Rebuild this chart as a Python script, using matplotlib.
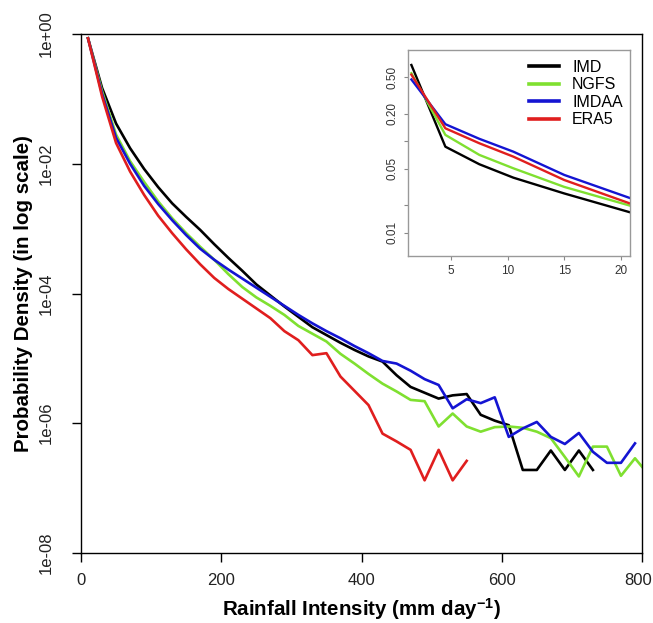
import numpy as np
import matplotlib
matplotlib.use("Agg")
import matplotlib.pyplot as plt
from matplotlib.ticker import NullLocator
from matplotlib.transforms import ScaledTranslation

plt.rcParams['font.family'] = ['Liberation Sans', 'DejaVu Sans']
plt.rcParams['mathtext.fontset'] = 'custom'
plt.rcParams['mathtext.rm'] = 'Liberation Sans'
plt.rcParams['mathtext.bf'] = 'Liberation Sans:bold'

# bin centres (mm/day)
bins = [10, 30, 50, 70, 90, 110, 130, 150, 170, 190, 210, 230, 250, 270, 290,
        310, 330, 350, 370, 390, 410, 430, 450, 470, 490, 510, 530, 550, 570,
        590, 610, 630, 650, 670, 690, 710, 730, 750, 770, 790, 810]

# log10 of probability density
imd_log = [-0.066, -0.83, -1.38, -1.76, -2.08, -2.36, -2.61, -2.82, -3.02, -3.24,
           -3.45, -3.65, -3.86, -4.03, -4.20, -4.36, -4.52, -4.64, -4.76, -4.87,
           -4.97, -5.05, -5.26, -5.44, -5.53, -5.62, -5.57, -5.55, -5.87, -5.96,
           -6.03, -6.72, -6.72, -6.42, -6.72, -6.42, -6.72]
ngfs_log = [-0.066, -0.88, -1.55, -1.96, -2.28, -2.58, -2.84, -3.07, -3.28, -3.48,
            -3.70, -3.90, -4.06, -4.19, -4.33, -4.50, -4.62, -4.74, -4.93, -5.08,
            -5.24, -5.39, -5.51, -5.64, -5.66, -6.05, -5.85, -6.05, -6.13, -6.06,
            -6.05, -6.07, -6.13, -6.23, -6.52, -6.82, -6.36, -6.36, -6.81, -6.54,
            -6.80]
imdaa_log = [-0.066, -0.92, -1.60, -2.00, -2.34, -2.62, -2.87, -3.10, -3.31, -3.48,
             -3.63, -3.77, -3.91, -4.05, -4.19, -4.33, -4.46, -4.58, -4.69, -4.81,
             -4.92, -5.04, -5.08, -5.19, -5.32, -5.41, -5.77, -5.63, -5.69, -5.60,
             -6.21, -6.08, -5.98, -6.21, -6.32, -6.15, -6.44, -6.61, -6.61, -6.31]
era5_log = [-0.066, -0.96, -1.68, -2.12, -2.48, -2.80, -3.07, -3.32, -3.55, -3.76,
            -3.93, -4.08, -4.23, -4.38, -4.58, -4.72, -4.95, -4.92, -5.28, -5.50,
            -5.72, -6.16, -6.28, -6.41, -6.88, -6.41, -6.88, -6.58]

# inset: first few mm/day
inset_x = [1.5, 4.5, 7.5, 10.5, 15.0, 21.0]
imd_in = [0.676, 0.087, 0.056, 0.040, 0.0269, 0.0165]
ngfs_in = [0.55, 0.117, 0.0708, 0.0506, 0.0317, 0.0195]
imdaa_in = [0.47, 0.153, 0.106, 0.0768, 0.0428, 0.0235]
era5_in = [0.53, 0.138, 0.0948, 0.0678, 0.0377, 0.0205]

names = ["IMD", "NGFS", "IMDAA", "ERA5"]
colors = ["black", "#7fe030", "#1414d2", "#e01e1e"]

W, H = 653, 623
fig = plt.figure(figsize=(W / 100, H / 100), dpi=100)

# main panel
ax = fig.add_axes([81 / W, 1 - 553 / H, (642 - 81) / W, (553 - 34) / H])
for vals, c in zip([imd_log, ngfs_log, imdaa_log, era5_log], colors):
    x = bins[:len(vals)]
    ax.plot(x, 10.0 ** np.array(vals), color=c, lw=1.9)

ax.set_yscale('log')
ax.set_xlim(0, 800)
ax.set_ylim(1e-8, 1)
ax.yaxis.set_minor_locator(NullLocator())
ax.set_xticks([0, 200, 400, 600, 800])
ax.set_yticks([1, 1e-2, 1e-4, 1e-6, 1e-8])
ax.set_yticklabels(["1e+00", "1e-02", "1e-04", "1e-06", "1e-08"],
                   rotation=90, va='center')
ax.tick_params(axis='both', direction='out', length=6.5, width=1,
               labelsize=12, labelcolor='#222222')
ax.tick_params(axis='x', pad=8)
ax.tick_params(axis='y', pad=13)
# last x label sits on the figure edge; nudge it inwards a little
lab800 = ax.get_xticklabels()[-1]
lab800.set_transform(lab800.get_transform() +
                     ScaledTranslation(-4 / 100, 0, fig.dpi_scale_trans))
for s in ax.spines.values():
    s.set_linewidth(1)
ax.set_xlabel(r"Rainfall Intensity (mm day$\mathbf{^{-1}}$)",
              fontsize=14.8, fontweight='bold', labelpad=6)
ax.set_ylabel("Probability Density (in log scale)", fontsize=14.8,
              fontweight='bold', labelpad=4)

# inset panel
ax2 = fig.add_axes([408 / W, 1 - 256 / H, (630 - 408) / W, (256 - 50) / H])
for vals, c, n in zip([imd_in, ngfs_in, imdaa_in, era5_in], colors, names):
    ax2.plot(inset_x, vals, color=c, lw=1.7, label=n)
ax2.set_yscale('log')
ax2.set_xlim(1.2, 20.8)
ax2.set_ylim(0.0056, 0.985)
ax2.yaxis.set_minor_locator(NullLocator())
ax2.set_yticks([0.01, 0.02, 0.05, 0.1, 0.2, 0.5])
ax2.set_yticklabels(["0.01", "", "0.05", "", "0.20", "0.50"],
                    rotation=90, va='center')
ax2.set_xticks([5, 10, 15, 20])
ax2.tick_params(axis='both', direction='out', length=3, width=0.8,
                labelsize=8.5, labelcolor='#333333', color='#888888')
for s in ax2.spines.values():
    s.set_color('#999999')
    s.set_linewidth(1)
ax2.legend(loc='upper left', bbox_to_anchor=(529 / W, 1 - 60 / H),
           bbox_transform=fig.transFigure, frameon=False, fontsize=11.5,
           handlelength=1.9, handletextpad=0.8, labelspacing=0.15,
           borderpad=0, borderaxespad=0)
for line in ax2.get_legend().get_lines():
    line.set_linewidth(2.6)

fig.savefig("out.png", dpi=100)
